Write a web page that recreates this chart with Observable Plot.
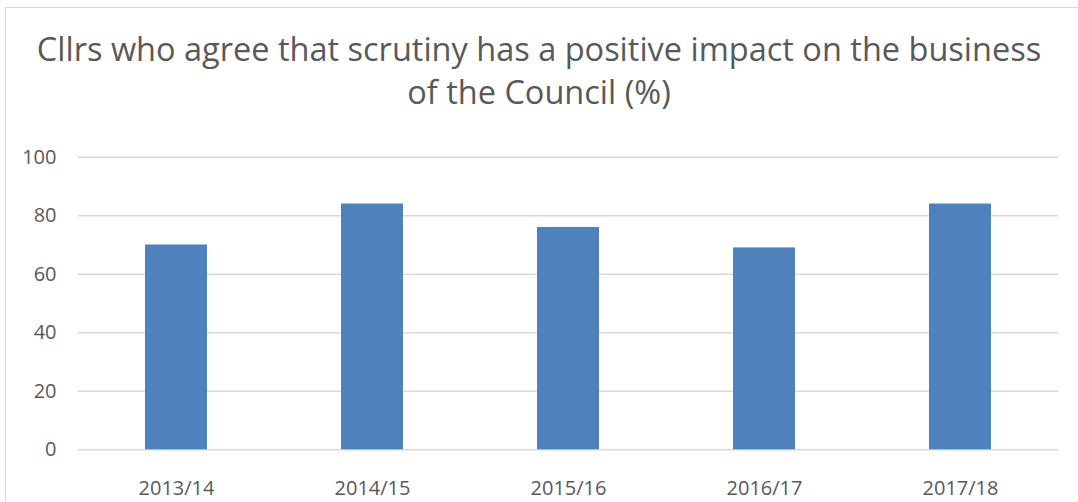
<!DOCTYPE html>
<html>
<head>
<meta charset="utf-8">
<script src="https://cdn.jsdelivr.net/npm/d3@7"></script>
<script src="https://cdn.jsdelivr.net/npm/@observablehq/plot@0.6"></script>
<style>
  html, body { margin: 0; padding: 0; background: #fff; }
  #frame { position: absolute; left: 5px; top: 7px; width: 1080px; height: 500px;
           border-top: 1.5px solid #d9d9d9; border-left: 1.5px solid #d9d9d9; box-sizing: border-box; }
  #wrap { position: relative; width: 1078px; height: 502px; overflow: hidden; font-family: "Open Sans", sans-serif; }
  #title { position: absolute; left: 0; top: 0; width: 1078px; height: 140px; box-sizing: border-box;
           padding-top: 27px; text-align: center; color: #595959; font-size: 32.5px; line-height: 43px; white-space: nowrap; }
  #chart { position: absolute; left: 0; top: 140px; }
</style>
</head>
<body>
<div id="wrap">
  <div id="frame"></div>
  <div id="title">Cllrs who agree that scrutiny has a positive impact on the business<br>of the Council (%)</div>
  <div id="chart"></div>
</div>
<script>
const years = ["2013/14", "2014/15", "2015/16", "2016/17", "2017/18"];
const values = [70, 84, 76, 69, 84];
const yTicks = [0, 20, 40, 60, 80, 100];

const data = years.map((y, i) => ({year: y, value: values[i]}));

const plot = Plot.plot({
  width: 1078,
  height: 362,
  marginTop: 16.7,
  marginBottom: 52.7,
  marginLeft: 78,
  marginRight: 20,
  style: {fontFamily: "Open Sans, sans-serif", background: "transparent", color: "#595959"},
  x: {domain: years, paddingInner: 0.684, paddingOuter: 0.342, label: null},
  y: {domain: [0, 100], label: null},
  marks: [
    Plot.gridY(yTicks, {stroke: "#d9d9d9", strokeOpacity: 1, strokeWidth: 1.5}),
    Plot.barY(data, {x: "year", y: "value", fill: "#4f81bd"}),
    Plot.axisY(yTicks, {tickSize: 0, tickPadding: 22, fontSize: 20, fill: "#595959"}),
    Plot.axisX({tickSize: 0, tickPadding: 31, fontSize: 20, fill: "#595959"})
  ]
});
document.getElementById("chart").appendChild(plot);
</script>
</body>
</html>
